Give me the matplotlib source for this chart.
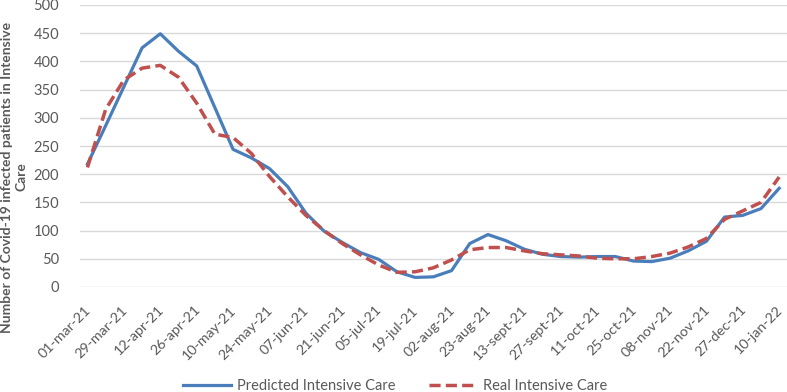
import matplotlib
matplotlib.use("Agg")
import matplotlib.pyplot as plt
from matplotlib.transforms import ScaledTranslation

tick_labels = ["01-mar-21", "29-mar-21", "12-apr-21", "26-apr-21", "10-may-21",
               "24-may-21", "07-jun-21", "21-jun-21", "05-jul-21", "19-jul-21",
               "02-aug-21", "23-aug-21", "13-sept-21", "27-sept-21", "11-oct-21",
               "25-oct-21", "08-nov-21", "22-nov-21", "27-dec-21", "10-jan-22"]

predicted = [218, 286, 355, 424, 449, 418, 392, 318, 244, 229,
             210, 178, 131, 99, 79, 61, 49, 27, 17, 18,
             29, 77, 93, 82, 67, 58, 54, 53, 54, 54,
             46, 45, 51, 64, 81, 124, 127, 139, 175]

real = [212, 315, 367, 388, 393, 372, 326, 271, 265, 237,
        196, 160, 127, 100, 77, 57, 39, 26, 27, 34,
        48, 66, 70, 70, 64, 59, 57, 55, 51, 50,
        50, 54, 60, 71, 86, 120, 135, 150, 195]

W, H = 787, 392
fig = plt.figure(figsize=(W / 100, H / 100), dpi=100)
ax = fig.add_axes([80 / W, 1 - 287 / H, 1 - 80 / W, (287 - 5) / H])

font = "Lato"
grey = "#595959"

x = list(range(len(predicted)))
ax.plot(x, predicted, color="#4A7EBB", lw=2.3, label="Predicted Intensive Care",
        solid_joinstyle="round", zorder=3)
ax.plot(x, real, color="#C0504D", lw=2.5, linestyle=(0, (3.2, 1.5)),
        label="Real Intensive Care", zorder=4)

ax.set_ylim(0, 500)
ax.set_xlim(-0.41, 38.43)
ax.set_yticks(range(0, 501, 50))
ax.yaxis.grid(True, color="#D9D9D9", lw=1.0)
ax.set_axisbelow(True)
for s in ax.spines.values():
    s.set_visible(False)
ax.tick_params(axis="both", length=0, colors=grey)
ax.tick_params(axis="y", pad=15)
ax.tick_params(axis="x", pad=12)

ticks = list(range(0, len(predicted), 2))
ax.set_xticks(ticks)
ax.set_xticklabels(tick_labels, rotation=45, ha="right", va="top",
                   rotation_mode="anchor", fontsize=10.3, family=font, color=grey)
shift = ScaledTranslation(-3 / 100, 0, fig.dpi_scale_trans)
for t in ax.get_xticklabels():
    t.set_transform(t.get_transform() + shift)
for t in ax.get_yticklabels():
    t.set_fontsize(10.5)
    t.set_family(font)
    t.set_color(grey)

fig.text(14 / W, 1 - 177 / H,
         "Number of Covid-19 infected patients in Intensive\nCare",
         rotation=90, ha="center", va="center", multialignment="center",
         fontsize=10.0, fontweight="bold", family=font, color=grey,
         linespacing=1.2)

leg = fig.legend(loc="center", bbox_to_anchor=(395 / W, 1 - 386 / H), ncol=2,
                 frameon=False, handlelength=3.3, handletextpad=0.4,
                 columnspacing=2.3, prop={"family": font, "size": 10.5})
for t in leg.get_texts():
    t.set_color(grey)

fig.savefig("out.png", dpi=100)
